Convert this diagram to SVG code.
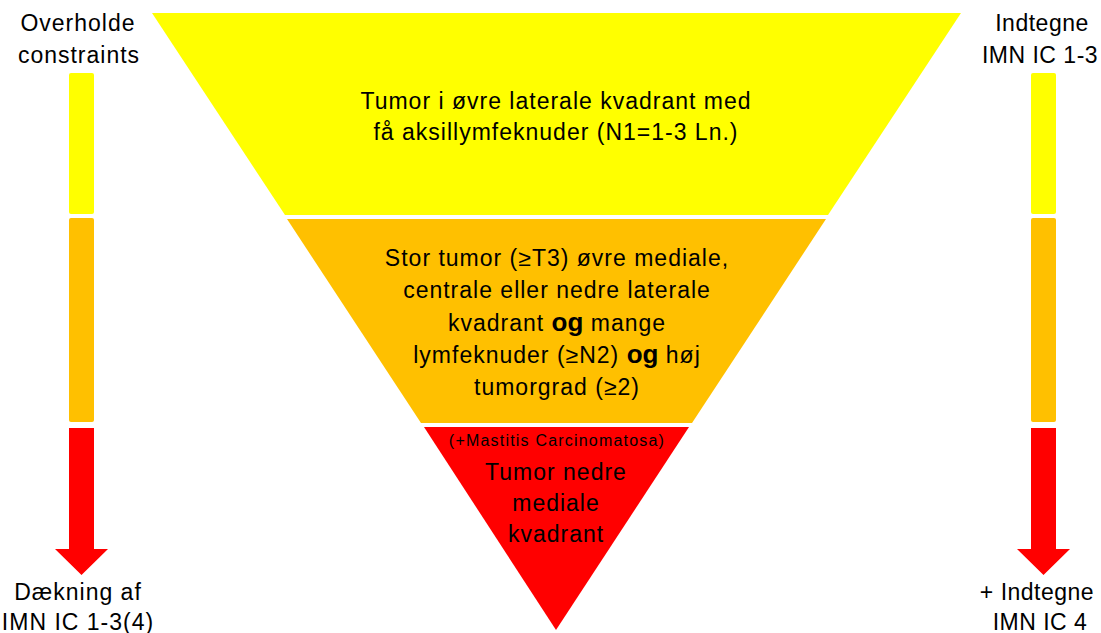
<svg xmlns="http://www.w3.org/2000/svg" width="1101" height="633" viewBox="0 0 1101 633">
<style>
text{font-family:"Liberation Sans",Arial,sans-serif;fill:#000;text-anchor:middle;letter-spacing:1px}
.lbl{font-size:23px}
.rl{letter-spacing:0.5px}
.main{font-size:23px}
.small{font-size:16px;letter-spacing:1.2px}
.b{font-weight:bold;font-size:26px;letter-spacing:0}
.y{fill:#FFFF00}.o{fill:#FFC000}.r{fill:#FF0000}
</style>
<rect width="1101" height="633" fill="#fff"/>
<g id="tier-top">
<polygon class="y" points="152,13 961,13 828,215 285,215"/>
<text class="main" x="556" y="109">Tumor i øvre laterale kvadrant med</text>
<text class="main" x="556" y="140">få aksillymfeknuder (N1=1-3 Ln.)</text>
</g>
<g id="tier-middle">
<polygon class="o" points="287,219 826,219 692,423 421,423"/>
<text class="main" x="557" y="266">Stor tumor (≥T3) øvre mediale,</text>
<text class="main" x="557" y="298">centrale eller nedre laterale</text>
<text class="main" x="557" y="331">kvadrant <tspan class="b">og</tspan> mange</text>
<text class="main" x="557" y="363">lymfeknuder (≥N2) <tspan class="b">og</tspan> høj</text>
<text class="main" x="557" y="395">tumorgrad (≥2)</text>
</g>
<g id="tier-bottom">
<polygon class="r" points="424,427 689,427 556,630"/>
<text class="small" x="557" y="446">(+Mastitis  Carcinomatosa)</text>
<text class="main" x="556" y="480">Tumor nedre</text>
<text class="main" x="556" y="511">mediale</text>
<text class="main" x="556" y="542">kvadrant</text>
</g>
<g id="left-scale">
<rect class="y" x="69" y="73" width="25" height="141" rx="2"/>
<rect class="o" x="69" y="218" width="25" height="204" rx="2"/>
<polygon class="r" points="69,428 94,428 94,549 108,549 81.5,575 55,549 69,549"/>
<text class="lbl" x="78" y="31">Overholde</text>
<text class="lbl" x="79" y="63">constraints</text>
<text class="lbl" x="78" y="600">Dækning af</text>
<text class="lbl" x="78" y="630">IMN IC 1-3(4)</text>
</g>
<g id="right-scale">
<rect class="y" x="1031" y="73" width="25" height="141" rx="2"/>
<rect class="o" x="1031" y="218" width="25" height="204" rx="2"/>
<polygon class="r" points="1031,428 1056,428 1056,549 1070,549 1043.5,575 1017,549 1031,549"/>
<text class="lbl rl" x="1042" y="31">Indtegne</text>
<text class="lbl rl" x="1040" y="63">IMN IC 1-3</text>
<text class="lbl rl" x="1037" y="600">+ Indtegne</text>
<text class="lbl rl" x="1040" y="630">IMN IC 4</text>
</g>
</svg>
